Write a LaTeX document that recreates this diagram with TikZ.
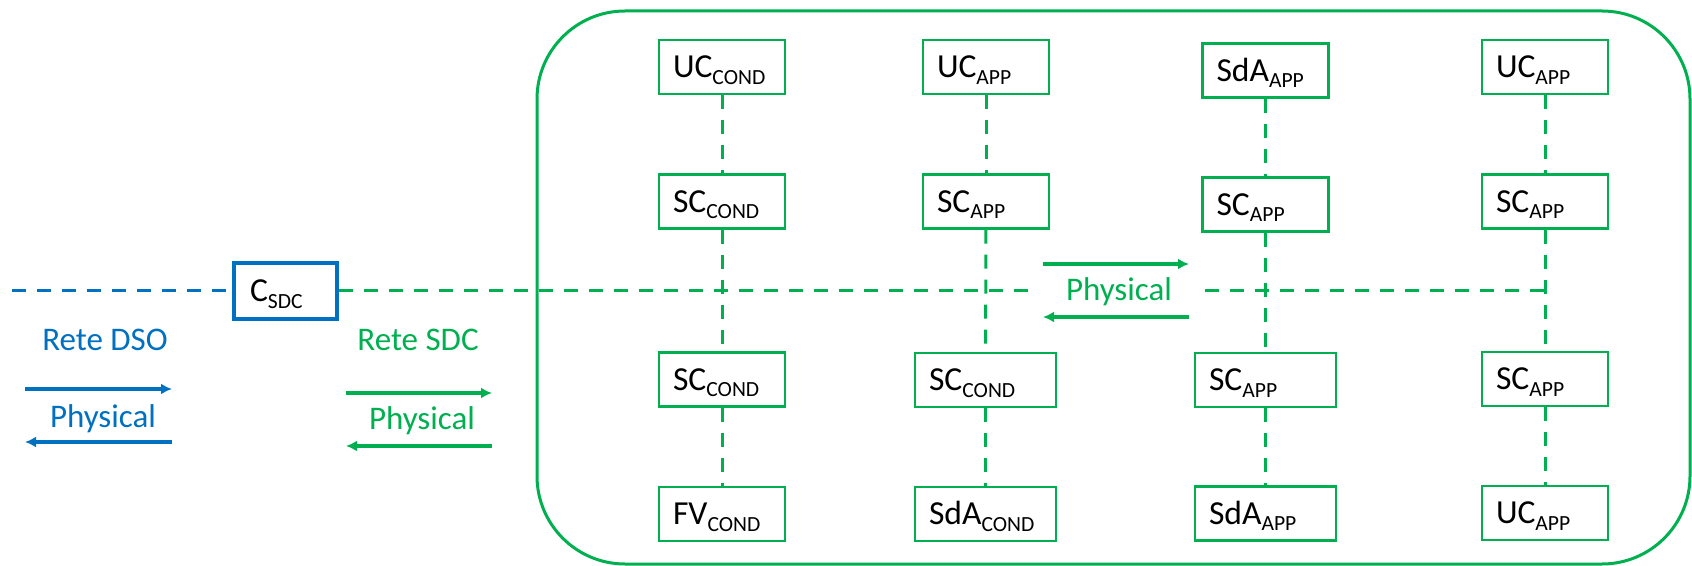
\documentclass[tikz,border=0pt]{standalone}
\usepackage{fontspec}
\setmainfont{Carlito}
\usetikzlibrary{arrows.meta}
\definecolor{sgreen}{HTML}{00B050}
\definecolor{sblue}{HTML}{0070C0}
\newcommand\subx[1]{\raisebox{-3.3pt}{\fontsize{10.8pt}{12pt}\selectfont #1}}
\begin{document}
\begin{tikzpicture}[x=0.5pt,y=-0.5pt,
  box/.style={draw=sgreen,line width=1.2pt,inner xsep=7pt,inner ysep=0pt,
    text width=49pt,align=left,minimum height=27pt,text height=10.8pt,text depth=0pt,
    font=\fontsize{16.8pt}{18pt}\selectfont},
  wbox/.style={box,text width=56.5pt},
  cbox/.style={box,draw=sblue,line width=1.6pt,inner xsep=8pt,text width=35.5pt,minimum height=28pt},
  gconn/.style={sgreen,line width=1.5pt,dash pattern=on 7pt off 5.5pt},
  bconn/.style={sblue,line width=1.5pt,dash pattern=on 7pt off 5.5pt},
  garr/.style={sgreen,line width=1.6pt,-{Latex[length=5.5pt,width=5.5pt]}},
  barr/.style={sblue,line width=1.6pt,-{Latex[length=5.5pt,width=5.5pt]}},
  lbl/.style={font=\fontsize{16.5pt}{18pt}\selectfont,inner sep=0pt}
]
\useasboundingbox (0,0) rectangle (1692,566);
% container
\draw[sgreen,line width=1.5pt,rounded corners=44pt] (537,11) rectangle (1690,564);

% boxes
\node[box]  (u1) at (722,67)     {UC\subx{COND}};
\node[box]  (s1) at (722,201.5)  {SC\subx{COND}};
\node[box]  (t1) at (722,379.5)  {SC\subx{COND}};
\node[box]  (b1) at (722,514)    {FV\subx{COND}};

\node[box]  (u2) at (986,67)     {UC\subx{APP}};
\node[box]  (s2) at (986,201.5)  {SC\subx{APP}};
\node[wbox] (t2) at (985.5,380)  {SC\subx{COND}};
\node[wbox] (b2) at (985.5,514)  {SdA\subx{COND}};

\node[box]  (u3) at (1265.5,70.5)  {SdA\subx{APP}};
\node[box]  (s3) at (1265.5,204.5) {SC\subx{APP}};
\node[wbox] (t3) at (1265.5,380)   {SC\subx{APP}};
\node[wbox] (b3) at (1265.5,513.5) {SdA\subx{APP}};

\node[box]  (u4) at (1545,67)    {UC\subx{APP}};
\node[box]  (s4) at (1545,201.5) {SC\subx{APP}};
\node[box]  (t4) at (1545,379)   {SC\subx{APP}};
\node[box]  (b4) at (1545,513)   {UC\subx{APP}};

\node[cbox] (csdc) at (285.5,291) {C\subx{SDC}};

% vertical connectors
\foreach \c in {1,2,3,4}{
  \draw[gconn] (u\c) -- (s\c);
  \draw[gconn] (s\c) -- (t\c);
  \draw[gconn] (t\c) -- (b\c);
}

% horizontal connectors
\coordinate (bstart) at (12,291);
\coordinate (gapL) at (1034,291);
\coordinate (gapR) at (1205,291);
\coordinate (hend) at (1545,291);
\draw[bconn] (bstart) -- (csdc.west);
\draw[gconn] (csdc.east) -- (gapL);
\draw[gconn] (gapR) -- (hend);

% labels
\node[lbl,text=sblue]  (rdso) at (105,340) {Rete DSO};
\node[lbl,text=sgreen] (rsdc) at (418,340) {Rete SDC};
\node[lbl,text=sblue]  (pb) at (103,419) {Physical};
\node[lbl,text=sgreen] (pg) at (422,421) {Physical};
\node[lbl,text=sgreen] (pm) at (1119,292) {Physical};

% arrows
\coordinate (ba1s) at (25,389);  \coordinate (ba1e) at (172,389);
\coordinate (ba2s) at (172,442); \coordinate (ba2e) at (25,442);
\draw[barr] (ba1s) -- (ba1e);
\draw[barr] (ba2s) -- (ba2e);
\coordinate (ga1s) at (346,393); \coordinate (ga1e) at (492,393);
\coordinate (ga2s) at (492,446); \coordinate (ga2e) at (346,446);
\draw[garr] (ga1s) -- (ga1e);
\draw[garr] (ga2s) -- (ga2e);
\coordinate (ma1s) at (1043,264); \coordinate (ma1e) at (1189,264);
\coordinate (ma2s) at (1189,317); \coordinate (ma2e) at (1043,317);
\draw[garr] (ma1s) -- (ma1e);
\draw[garr] (ma2s) -- (ma2e);
\end{tikzpicture}
\end{document}
